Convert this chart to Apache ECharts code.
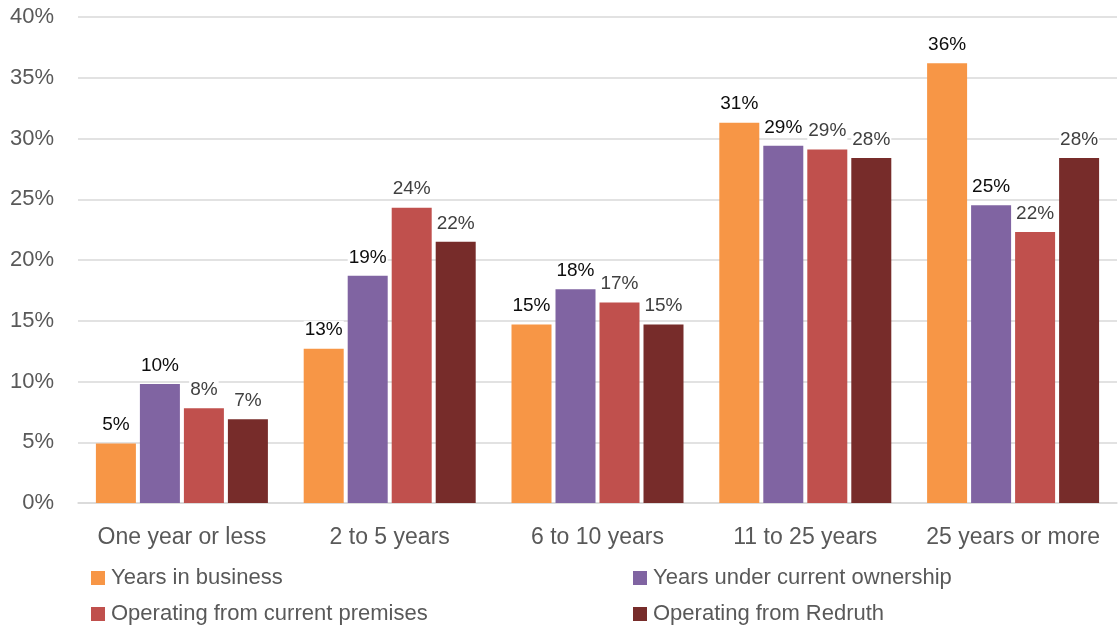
<!DOCTYPE html>
<html>
<head>
<meta charset="utf-8">
<script src="https://cdn.jsdelivr.net/npm/echarts@6/dist/echarts.min.js"></script>
<style>
  html, body { margin: 0; padding: 0; background: #ffffff; }
  #chart { width: 1119px; height: 630px; }
</style>
</head>
<body>
<div id="chart"></div>
<script>
// Length-of-time bands
const categories = ['One year or less', '2 to 5 years', '6 to 10 years', '11 to 25 years', '25 years or more'];

// Share of businesses in each band (%)
const yearsInBusiness        = [4.9, 12.7, 14.7, 31.3, 36.2];
const yearsUnderOwnership    = [9.8, 18.7, 17.6, 29.4, 24.5];
const currentPremises        = [7.8, 24.3, 16.5, 29.1, 22.3];
const operatingFromRedruth   = [6.9, 21.5, 14.7, 28.4, 28.4];

const seriesNames = [
  'Years in business',
  'Years under current ownership',
  'Operating from current premises',
  'Operating from Redruth'
];

// Y-axis ticks (%)
const yTicks = [0, 5, 10, 15, 20, 25, 30, 35, 40];

const FONT = '"Liberation Sans", Arial, sans-serif';
const colors = ['#F79646', '#8064A2', '#C0504D', '#772C2A'];
const labelColors = ['#0d0d0d', '#0d0d0d', '#404040', '#404040'];
const values = [yearsInBusiness, yearsUnderOwnership, currentPremises, operatingFromRedruth];

// legend slots: two columns, two rows
const legendSlots = [
  { left: 91, top: 567 },
  { left: 633, top: 567 },
  { left: 91, top: 603 },
  { left: 633, top: 603 }
];

const chart = echarts.init(document.getElementById('chart'), null, { renderer: 'canvas' });

const series = values.map((data, i) => ({
  name: seriesNames[i],
  type: 'bar',
  data: data,
  barWidth: 40,
  barGap: '10%',
  itemStyle: { color: colors[i] },
  label: {
    show: true,
    position: 'top',
    distance: 9,
    fontFamily: FONT,
    fontSize: 19,
    color: labelColors[i],
    backgroundColor: '#ffffff',
    padding: [0, 1],
    formatter: p => Math.round(p.value) + '%'
  }
}));

const legends = seriesNames.map((name, i) => ({
  data: [name],
  left: legendSlots[i].left,
  top: legendSlots[i].top,
  padding: 0,
  itemWidth: 14,
  itemHeight: 14,
  itemGap: 0,
  icon: 'rect',
  selectedMode: false,
  textStyle: { fontFamily: FONT, fontSize: 22, color: '#595959', padding: [0, 0, 0, 1] }
}));

chart.setOption({
  animation: false,
  backgroundColor: '#ffffff',
  color: colors,
  grid: { left: 78, right: 2, top: 17, bottom: 127, containLabel: false },
  xAxis: {
    type: 'category',
    data: categories,
    axisTick: { show: false },
    axisLine: { show: true, lineStyle: { color: '#d9d9d9', width: 1.5 } },
    axisLabel: { interval: 0, fontFamily: FONT, fontSize: 23, color: '#595959', margin: 23 }
  },
  yAxis: {
    type: 'value',
    min: yTicks[0],
    max: yTicks[yTicks.length - 1],
    interval: 5,
    axisLine: { show: false },
    axisTick: { show: false },
    splitLine: { lineStyle: { color: '#d9d9d9', width: 1.5 } },
    axisLabel: { fontFamily: FONT, fontSize: 22, color: '#595959', margin: 24, formatter: v => v + '%' }
  },
  legend: legends,
  series: series
});
</script>
</body>
</html>
